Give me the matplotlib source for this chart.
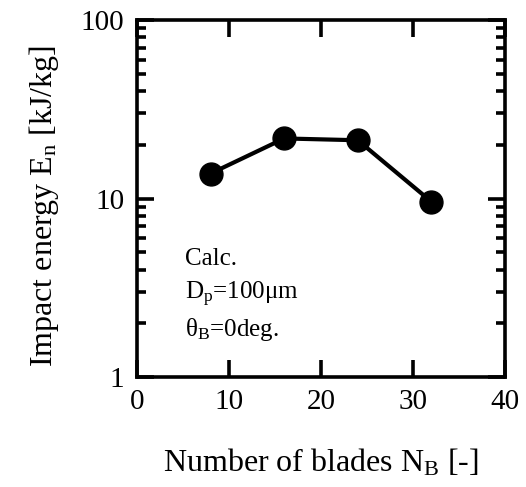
import matplotlib
matplotlib.use('Agg')
from matplotlib import pyplot as plt
from matplotlib.ticker import LogLocator, NullFormatter, FixedLocator

plt.rcParams['font.family'] = ['Liberation Serif', 'DejaVu Serif']
plt.rcParams['mathtext.fontset'] = 'custom'
plt.rcParams['mathtext.rm'] = 'Liberation Serif'
plt.rcParams['mathtext.it'] = 'Liberation Serif:italic'

# data
blades = [8, 16, 24, 32]
energy = [13.8, 21.7, 21.2, 9.6]
x_ticks = [0, 10, 20, 30, 40]
y_ticks = [1, 10, 100]
y_tick_labels = ['1', '10', '100']

fig = plt.figure(figsize=(5.26, 4.87), dpi=100)
ax = fig.add_axes([0.2605, 0.2259, 0.6995, 0.733])

ax.plot(blades, energy, '-o', color='black', lw=3, ms=16.5)

ax.set_yscale('log')
ax.set_xlim(0, 40)
ax.set_ylim(1, 100)
ax.xaxis.set_major_locator(FixedLocator(x_ticks))
ax.set_yticks(y_ticks)
ax.set_yticklabels(y_tick_labels)
ax.yaxis.set_minor_locator(LogLocator(base=10, subs=range(2, 10)))
ax.yaxis.set_minor_formatter(NullFormatter())

for s in ax.spines.values():
    s.set_linewidth(2.6)
ax.tick_params(which='both', direction='in', top=True, right=True,
               width=2.6, labelsize=21, pad=9)
ax.tick_params(which='major', length=12)
ax.tick_params(which='minor', length=6.5)

ax.set_xlabel('Number of blades N$_\\mathrm{B}$ [-]', fontsize=23, labelpad=23)
ax.set_ylabel('Impact energy E$_\\mathrm{n}$ [kJ/kg]', fontsize=23, va='center')
ax.yaxis.set_label_coords(-0.253, 0.478)

ax.text(0.13, 0.314, 'Calc.', transform=ax.transAxes, fontsize=18)
ax.text(0.13, 0.216, 'D$_\\mathrm{p}$=100\u03bcm', transform=ax.transAxes, fontsize=18)
ax.text(0.13, 0.114, '\u03b8$_\\mathrm{B}$=0deg.', transform=ax.transAxes, fontsize=18)

plt.savefig('out.png', dpi=100)
